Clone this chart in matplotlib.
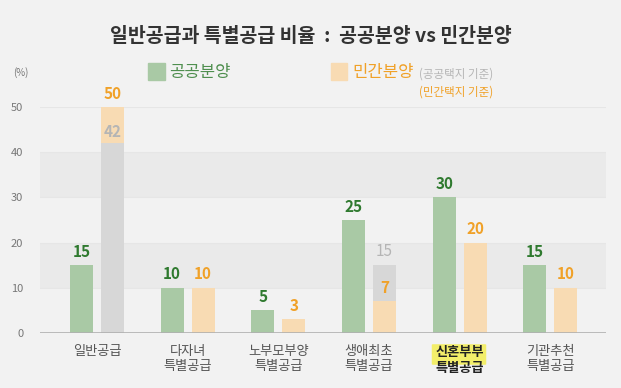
"""
일반공급과 특별공급 비율 : 공공분양 vs 민간분양
"""
import matplotlib.pyplot as plt
from matplotlib.patches import Rectangle, FancyBboxPatch

plt.rcParams['font.family'] = ['Noto Sans CJK KR', 'DejaVu Sans']

# data
categories = ['일반공급', '다자녀\n특별공급', '노부모부양\n특별공급',
              '생애최초\n특별공급', '신혼부부\n특별공급', '기관추천\n특별공급']
public = [15, 10, 5, 25, 30, 15]
private_public_land = [42, 10, 3, 15, 20, 10]
private_private_land = [50, 10, 3, 7, 20, 10]
yticks = [0, 10, 20, 30, 40, 50]

GREEN = '#a9c9a5'
ORANGE = '#f8dbb3'
GREY = '#d7d7d7'
GREEN_TXT = '#2f7a2f'
ORANGE_TXT = '#f0a128'
GREY_TXT = '#b5b5b5'
BG = '#f2f2f2'
BAND = '#eaeaea'

fig = plt.figure(figsize=(6.21, 3.88), dpi=100, facecolor=BG)
ax = fig.add_axes([0.0644, 0.1418, 0.912, 0.5824])
ax.set_facecolor(BG)

W = 0.254
OFF = 0.171
ax.set_xlim(-0.629, 5.618)
ax.set_ylim(0, 50)

# shaded bands
for lo in (10, 30):
    ax.axhspan(lo, lo + 10, color=BAND, zorder=0, lw=0)
for y in yticks[1:]:
    ax.axhline(y, color='#e6e6e6', lw=0.8, zorder=0.5)
ax.axhline(0, color='#b0b0b0', lw=1.2, zorder=3)

x = list(range(len(categories)))
xs_pub = [i - OFF for i in x]
xs_prv = [i + OFF for i in x]

ax.bar(xs_pub, public, width=W, color=GREEN, zorder=2)
for xp, v in zip(xs_pub, public):
    ax.text(xp, v + 1.2, str(v), ha='center', va='bottom', fontsize=11,
            fontweight='bold', color=GREEN_TXT)

for xp, a, b in zip(xs_prv, private_public_land, private_private_land):
    if a == b:
        ax.bar(xp, b, width=W, color=ORANGE, zorder=2)
        ax.text(xp, b + 1.2, str(b), ha='center', va='bottom', fontsize=11,
                fontweight='bold', color=ORANGE_TXT)
    elif b > a:
        ax.bar(xp, b, width=W, color=ORANGE, zorder=2)
        ax.bar(xp, a, width=W, color=GREY, zorder=2.1)
        ax.text(xp, b + 1.2, str(b), ha='center', va='bottom', fontsize=11,
                fontweight='bold', color=ORANGE_TXT)
        ax.text(xp, a + 0.8, str(a), ha='center', va='bottom', fontsize=11,
                fontweight='bold', color=GREY_TXT)
    else:
        ax.bar(xp, a, width=W, color=GREY, zorder=2)
        ax.bar(xp, b, width=W, color=ORANGE, zorder=2.1)
        ax.text(xp, a + 1.2, str(a), ha='center', va='bottom', fontsize=11,
                color=GREY_TXT)
        ax.text(xp, b + 1.2, str(b), ha='center', va='bottom', fontsize=11,
                fontweight='bold', color=ORANGE_TXT)

for s in ax.spines.values():
    s.set_visible(False)
ax.set_yticks(yticks)
ax.set_yticklabels([str(t) for t in yticks], fontsize=8, color='#777777')
ax.tick_params(axis='y', length=0, pad=12)
ax.set_xticks(x)
ax.set_xticklabels(categories, fontsize=9.5, color='#555555', linespacing=1.15)
ax.tick_params(axis='x', length=0, pad=9)
hl = ax.get_xticklabels()[4]
hl.set_fontweight('bold')
hl.set_color('#222222')

# yellow highlighter behind the first line of the highlighted label
fig.patches.append(FancyBboxPatch((433 / 621, 1 - 364 / 388), 52 / 621,
                                  19 / 388, boxstyle='round,pad=0.002',
                                  transform=fig.transFigure, color='#f3ee6a',
                                  lw=0, zorder=-1))

# title and legend
fig.text(0.5, 0.905, '일반공급과 특별공급 비율  :  공공분양 vs 민간분양', ha='center',
         va='center', fontsize=14, fontweight='bold', color='#333333')
fig.text(0.033, 1 - 73 / 388, '(%)', ha='center', va='center', fontsize=7,
         color='#777777')
fig.patches.append(Rectangle((148 / 621, 1 - 80 / 388), 17 / 621, 17 / 388,
                             transform=fig.transFigure, color=GREEN))
fig.text(169 / 621, 1 - 72 / 388, '공공분양', ha='left', va='center',
         fontsize=12, color='#4f8f4f')
fig.patches.append(Rectangle((331 / 621, 1 - 80 / 388), 16 / 621, 17 / 388,
                             transform=fig.transFigure, color=ORANGE))
fig.text(352 / 621, 1 - 72 / 388, '민간분양', ha='left', va='center',
         fontsize=12, color=ORANGE_TXT)
fig.text(419 / 621, 1 - 74 / 388, '(공공택지 기준)', ha='left', va='center',
         fontsize=8.3, color=GREY_TXT)
fig.text(419 / 621, 1 - 92 / 388, '(민간택지 기준)', ha='left', va='center',
         fontsize=8.3, color=ORANGE_TXT)

fig.savefig('out.png', dpi=100, facecolor=BG)
